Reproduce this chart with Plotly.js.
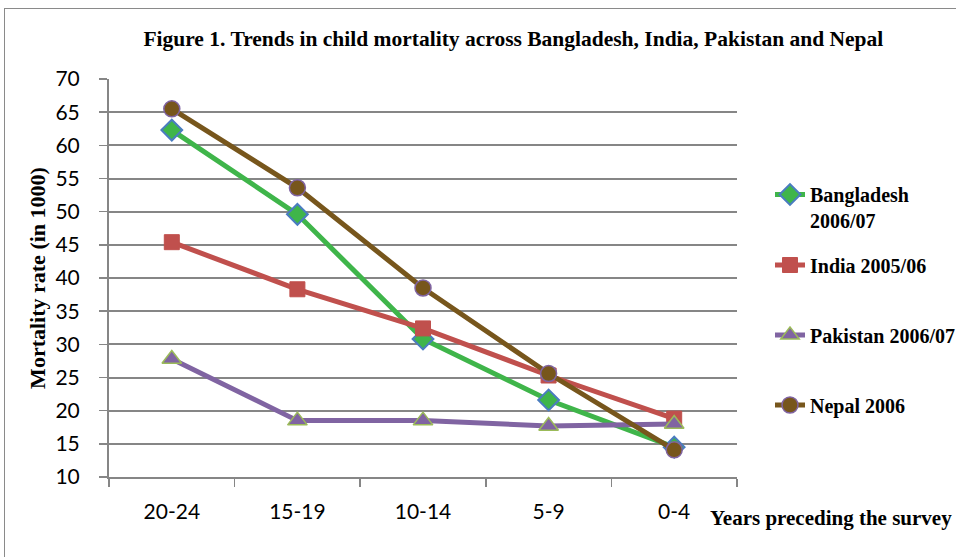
<!DOCTYPE html>
<html>
<head>
<meta charset="utf-8">
<script src="https://cdn.plot.ly/plotly-3.0.1.min.js"></script>
<style>
  html, body { margin: 0; padding: 0; background: #fff; }
  #wrap { position: relative; width: 956px; height: 557px; overflow: hidden; }
  #frame { position: absolute; left: 4px; top: 8px; width: 960px; height: 560px; border: 1.5px solid #8a8a8a; box-sizing: border-box; pointer-events: none; z-index: 5; }
  #chart { position: absolute; left: 0; top: 0; width: 956px; height: 557px; }
</style>
</head>
<body>
<div id="wrap">
  <div id="chart"></div>
  <div id="frame"></div>
</div>
<script>
const categories = ["20-24", "15-19", "10-14", "5-9", "0-4"];
const bangladesh = [62.3, 49.6, 30.8, 21.6, 14.5];
const india      = [45.4, 38.3, 32.4, 25.3, 18.8];
const pakistan   = [27.8, 18.5, 18.5, 17.7, 18.0];
const nepal      = [65.5, 53.6, 38.5, 25.6, 14.1];
const seriesNames = ["Bangladesh<br>2006/07", "India 2005/06", "Pakistan 2006/07", "Nepal 2006"];
const yTicks = [10, 15, 20, 25, 30, 35, 40, 45, 50, 55, 60, 65, 70];

const serif = "'Liberation Serif', 'Times New Roman', serif";
const sans = "Lato, 'Open Sans', sans-serif";

function tr(name, y, lineColor, symbol, fill, outline, size, lw, leg) {
  return {
    type: "scatter", mode: "lines+markers", x: categories, y: y, name: "<b>" + name + "</b>",
    legend: leg,
    line: { color: lineColor, width: 5 },
    marker: { symbol: symbol, color: fill, size: size, line: { color: outline, width: lw } }
  };
}

const data = [
  tr(seriesNames[0], bangladesh, "#3fb54a", "diamond", "#3fb54a", "#4a7cc0", 16, 2, "legend"),
  tr(seriesNames[1], india, "#c0504d", "square", "#c0504d", "#c0504d", 15, 1, "legend2"),
  tr(seriesNames[2], pakistan, "#8064a2", "triangle-up", "#8064a2", "#9bbb59", 17, 1.5, "legend3"),
  tr(seriesNames[3], nepal, "#77561c", "circle", "#77561c", "#8064a2", 16, 1.5, "legend4")
];

const py = p => 1 - (p - 79) / 398;
const legX = (770 - 109) / 628;
function leg(yPix, anchor) {
  return {
    x: legX, xanchor: "left", y: py(yPix), yanchor: anchor,
    bgcolor: "rgba(0,0,0,0)",
    font: { family: serif, size: 20, color: "#000" },
    valign: "top", itemwidth: 30
  };
}

const layout = {
  width: 956, height: 557,
  margin: { l: 109, r: 219, t: 79, b: 80, autoexpand: false },
  paper_bgcolor: "#ffffff", plot_bgcolor: "#ffffff",
  showlegend: true,
  title: {
    text: "<b>Figure 1. Trends in child mortality across Bangladesh, India, Pakistan and Nepal</b>",
    font: { family: serif, size: 21.5, color: "#000" },
    x: 0.537, xanchor: "center", xref: "container",
    y: 1 - 38 / 557, yanchor: "middle", yref: "container"
  },
  xaxis: {
    type: "category", categoryorder: "array", categoryarray: categories,
    range: [-0.5, 4.5],
    showgrid: false, zeroline: false,
    showline: true, linecolor: "#868686", linewidth: 2,
    ticks: "outside", tickson: "boundaries", ticklen: 8, tickcolor: "#868686", tickwidth: 1.5,
    tickfont: { family: sans, size: 21, color: "#000" },
    ticklabelstandoff: 15,
    fixedrange: true
  },
  yaxis: {
    range: [10, 70], tickvals: yTicks, ticktext: yTicks.map(String),
    showgrid: true, gridcolor: "#868686", gridwidth: 2,
    zeroline: false,
    showline: true, linecolor: "#868686", linewidth: 2,
    ticks: "outside", ticklen: 8, tickcolor: "#868686", tickwidth: 1.5,
    tickfont: { family: sans, size: 21, color: "#000" },
    ticklabelstandoff: 15,
    title: { text: "<b>Mortality rate (in 1000)</b>", font: { family: serif, size: 22, color: "#000" }, standoff: 4 },
    fixedrange: true
  },
  legend: leg(175, "top"),
  legend2: leg(265, "middle"),
  legend3: leg(335, "middle"),
  legend4: leg(405, "middle"),
  annotations: [{
    text: "<b>Years preceding the survey</b>",
    xref: "paper", yref: "paper",
    x: (708 - 109) / 628, y: (477 - 518) / 398,
    xanchor: "left", yanchor: "middle", showarrow: false,
    font: { family: serif, size: 21, color: "#000" }
  }]
};

Plotly.newPlot("chart", data, layout, { displayModeBar: false, staticPlot: true });
</script>
</body>
</html>
